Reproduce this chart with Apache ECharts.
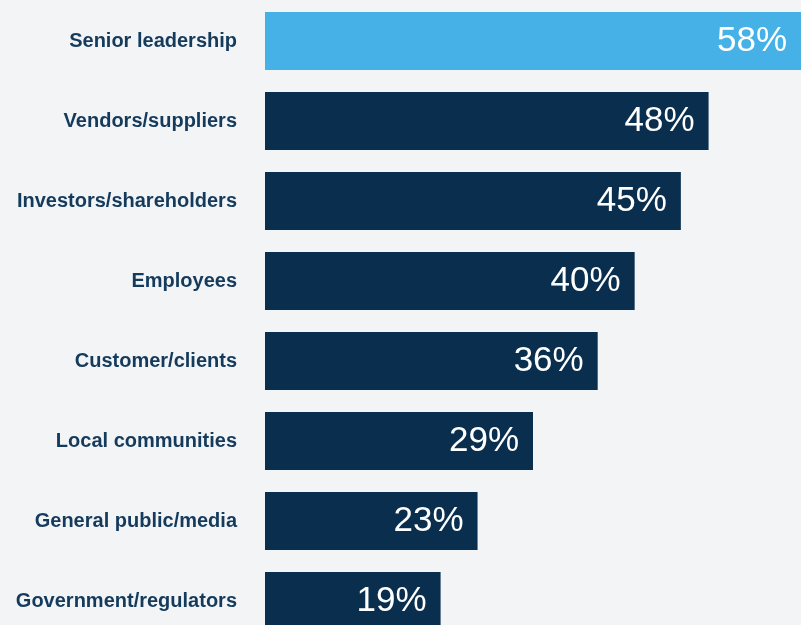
<!DOCTYPE html>
<html>
<head>
<meta charset="utf-8">
<script src="https://cdn.jsdelivr.net/npm/echarts@6/dist/echarts.min.js"></script>
<style>
  html, body { margin: 0; padding: 0; background: #f3f4f6; overflow: hidden; }
  /* the last row runs past the bottom edge of the window */
  #chart { width: 801px; height: 641px; }
</style>
</head>
<body>
<div id="chart"></div>
<script>
// Stakeholder groups, top to bottom
const categories = [
  'Senior leadership',
  'Vendors/suppliers',
  'Investors/shareholders',
  'Employees',
  'Customer/clients',
  'Local communities',
  'General public/media',
  'Government/regulators'
];
// Share of respondents (%)
const values = [58, 48, 45, 40, 36, 29, 23, 19];
// Highlighted group gets the light accent colour
const highlight = ['Senior leadership'];

const NAVY = '#0a2f4e';
const ACCENT = '#45b1e6';

const chart = echarts.init(document.getElementById('chart'), null, { renderer: 'canvas' });
chart.setOption({
  backgroundColor: '#f3f4f6',
  animation: false,
  grid: { left: 265, right: 0, top: 1, bottom: 0, containLabel: false },
  xAxis: {
    type: 'value',
    min: 0,
    max: 58,
    show: false
  },
  yAxis: {
    type: 'category',
    inverse: true,
    data: categories,
    axisLine: { show: false },
    axisTick: { show: false },
    axisLabel: {
      margin: 28,
      color: '#143a5c',
      fontFamily: 'Liberation Sans, Arial, sans-serif',
      fontWeight: 'bold',
      fontSize: 20
    }
  },
  series: [{
    type: 'bar',
    barWidth: 58,
    data: values.map((v, i) => ({
      value: v,
      itemStyle: { color: highlight.includes(categories[i]) ? ACCENT : NAVY }
    })),
    label: {
      show: true,
      position: 'insideRight',
      distance: 14,
      formatter: p => p.value + '%',
      color: '#ffffff',
      fontFamily: 'Liberation Sans, Arial, sans-serif',
      fontSize: 35
    }
  }]
});
</script>
</body>
</html>
